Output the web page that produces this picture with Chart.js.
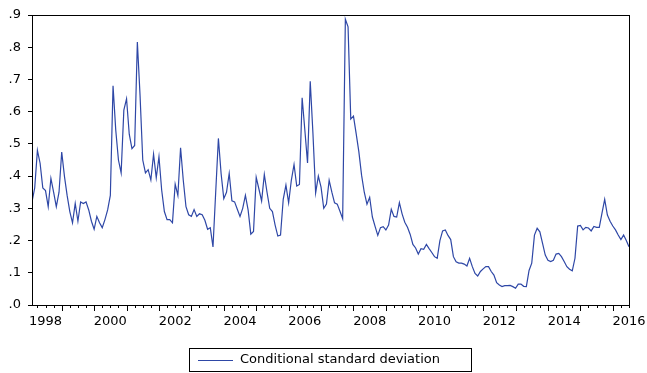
<!DOCTYPE html>
<html>
<head>
<meta charset="utf-8">
<script src="https://cdn.jsdelivr.net/npm/chart.js@4.4.1/dist/chart.umd.min.js"></script>
<style>
  html, body { margin: 0; padding: 0; background: #fff; }
</style>
</head>
<body>
<canvas id="VolChart" width="647" height="373"></canvas>
<script>
// monthly series, first observation 1998M02
const startYear = 1998;
const startMonth = 2;
const seriesName = 'Conditional standard deviation';
const condStd = [
  0.32, 0.363, 0.48, 0.44, 0.363, 0.355, 0.305, 0.393, 0.35, 0.305, 0.35, 0.475,
  0.40, 0.34, 0.29, 0.255, 0.315, 0.26, 0.32, 0.315, 0.32, 0.295, 0.26, 0.235,
  0.275, 0.255, 0.24, 0.265, 0.295, 0.34, 0.68, 0.543, 0.45, 0.41, 0.605, 0.64,
  0.53, 0.485, 0.495, 0.816, 0.65, 0.45, 0.41, 0.42, 0.388, 0.468, 0.395, 0.46,
  0.357, 0.29, 0.265, 0.265, 0.255, 0.375, 0.34, 0.488, 0.387, 0.305, 0.28, 0.275,
  0.296, 0.275, 0.283, 0.28, 0.263, 0.235, 0.24, 0.18, 0.35, 0.517, 0.408, 0.33,
  0.35, 0.408, 0.323, 0.32, 0.297, 0.275, 0.30, 0.34, 0.295, 0.22, 0.228, 0.396,
  0.36, 0.323, 0.405, 0.35, 0.30, 0.29, 0.248, 0.214, 0.217, 0.328, 0.372, 0.317,
  0.387, 0.436, 0.369, 0.374, 0.643, 0.543, 0.441, 0.694, 0.532, 0.348, 0.40, 0.366,
  0.30, 0.313, 0.387, 0.35, 0.317, 0.313, 0.291, 0.268, 0.887, 0.863, 0.577, 0.586,
  0.532, 0.475, 0.403, 0.35, 0.313, 0.334, 0.273, 0.244, 0.216, 0.24, 0.243, 0.233,
  0.248, 0.297, 0.275, 0.273, 0.318, 0.283, 0.257, 0.241, 0.219, 0.188, 0.177, 0.158,
  0.175, 0.173, 0.188, 0.175, 0.163, 0.15, 0.145, 0.20, 0.23, 0.233, 0.216, 0.203,
  0.15, 0.134, 0.13, 0.13, 0.127, 0.121, 0.145, 0.119, 0.098, 0.09, 0.104, 0.112,
  0.119, 0.119, 0.104, 0.093, 0.069, 0.062, 0.057, 0.06, 0.06, 0.061, 0.057, 0.052,
  0.065, 0.065, 0.058, 0.057, 0.107, 0.13, 0.217, 0.238, 0.227, 0.191, 0.155, 0.139,
  0.135, 0.139, 0.158, 0.16, 0.15, 0.135, 0.119, 0.111, 0.106, 0.145, 0.245, 0.247,
  0.233, 0.241, 0.239, 0.23, 0.244, 0.241, 0.241, 0.285, 0.328, 0.279, 0.26, 0.245,
  0.233, 0.217, 0.203, 0.217, 0.20, 0.181
];
const yearLabels = [1998, 2000, 2002, 2004, 2006, 2008, 2010, 2012, 2014, 2016];
const yTickLabels = ['.0', '.1', '.2', '.3', '.4', '.5', '.6', '.7', '.8', '.9'];

const lineColor = '#2e47a6';
const axisFont = { family: 'DejaVu Sans', size: 13 };

// observation i sits at its month, in decimal years
const points = condStd.map(function (v, i) {
  return { x: startYear + (startMonth - 1 + i) / 12, y: v };
});

// box round the plot, quarter/year ticks under x axis, boxed legend
const evFrame = {
  id: 'evFrame',
  afterDraw: function (chart) {
    const ctx = chart.ctx;
    const a = chart.chartArea;
    const xs = chart.scales.x;
    ctx.save();
    ctx.strokeStyle = '#000';
    ctx.lineWidth = 1;
    ctx.strokeRect(Math.round(a.left) + 0.5, Math.round(a.top) + 0.5,
      Math.round(a.right - a.left), Math.round(a.bottom - a.top));

    xs.ticks.forEach(function (t) {
      const px = Math.round(xs.getPixelForValue(t.value)) + 0.5;
      const len = Number.isInteger(t.value) ? 6 : 3;
      ctx.beginPath();
      ctx.moveTo(px, Math.round(a.bottom));
      ctx.lineTo(px, Math.round(a.bottom) + len);
      ctx.stroke();
    });

    // legend
    ctx.strokeRect(189.5, 348.5, 282, 23);
    ctx.strokeStyle = lineColor;
    ctx.beginPath();
    ctx.moveTo(198, 360.5);
    ctx.lineTo(233, 360.5);
    ctx.stroke();
    ctx.fillStyle = '#000';
    ctx.font = '13px "DejaVu Sans"';
    ctx.textBaseline = 'middle';
    ctx.fillText(seriesName, 240, 360);
    ctx.restore();
  }
};

const config = {
  type: 'line',
  data: {
    datasets: [{
      label: seriesName,
      data: points,
      borderColor: lineColor,
      borderWidth: 1.2,
      pointRadius: 0,
      tension: 0,
      fill: false
    }]
  },
  options: {
    responsive: false,
    animation: false,
    layout: { padding: { left: 0, right: 18, top: 15, bottom: 0 } },
    plugins: {
      legend: { display: false },
      tooltip: { enabled: false }
    },
    scales: {
      x: {
        type: 'linear',
        min: points[0].x,
        max: points[points.length - 1].x,
        afterBuildTicks: function (scale) {
          const t = [];
          for (let k = Math.ceil(scale.min * 4); k <= Math.floor(scale.max * 4 + 1e-6); k++) {
            t.push({ value: k / 4 });
          }
          scale.ticks = t;
        },
        afterFit: function (scale) {
          scale.height = 68;
          scale.paddingLeft = 0;
          scale.paddingRight = 0;
        },
        grid: { drawOnChartArea: false, drawTicks: false },
        border: { display: true, color: '#000' },
        ticks: {
          autoSkip: false,
          maxRotation: 0,
          padding: 9,
          color: '#000',
          font: axisFont,
          callback: function (value) {
            const yr = value - 0.5;
            return yearLabels.indexOf(yr) >= 0 ? String(yr) : '';
          }
        }
      },
      y: {
        min: 0,
        max: 0.9,
        afterFit: function (scale) { scale.width = 32; },
        grid: { drawOnChartArea: false, drawTicks: true, tickLength: 4, tickColor: '#000' },
        border: { display: true, color: '#000' },
        ticks: {
          stepSize: 0.1,
          padding: 7,
          color: '#000',
          font: axisFont,
          callback: function (value) {
            return yTickLabels[Math.round(value * 10)];
          }
        }
      }
    }
  },
  plugins: [evFrame]
};

const volChart = new Chart(document.getElementById('VolChart'), config);
</script>
</body>
</html>
